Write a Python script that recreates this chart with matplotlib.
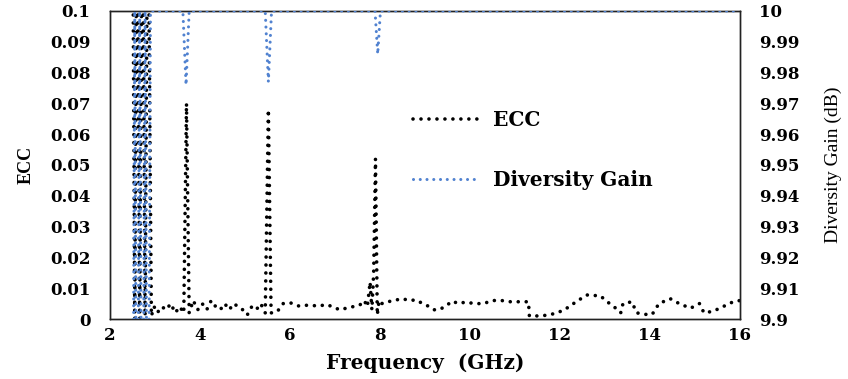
import matplotlib
matplotlib.use("Agg")
import matplotlib.pyplot as plt
from matplotlib.ticker import FixedLocator, FixedFormatter

plt.rcParams["font.family"] = ["DejaVu Serif"]

# Frequency sweep (GHz) and envelope correlation coefficient
freq_ecc = [2.50, 2.55, 2.60, 2.66, 2.72, 2.78, 2.84, 2.92, 2.98, 3.05, 3.15, 3.25,
            3.35, 3.45, 3.55, 3.64, 3.70, 3.76, 3.85, 3.95, 4.05, 4.15, 4.25, 4.35,
            4.45, 4.55, 4.65, 4.75, 4.85, 4.95, 5.05, 5.15, 5.25, 5.35, 5.45, 5.52,
            5.58, 5.66, 5.75, 5.85, 6.00, 6.20, 6.40, 6.65, 6.80, 6.95, 7.10, 7.25,
            7.40, 7.55, 7.65, 7.72, 7.78, 7.82, 7.86, 7.90, 7.94, 7.98, 8.05, 8.15,
            8.30, 8.50, 8.65, 8.80, 8.95, 9.10, 9.20, 9.30, 9.45, 9.60, 9.75, 9.90,
            10.10, 10.30, 10.50, 10.70, 10.90, 11.10, 11.30, 11.32, 11.60, 11.90,
            12.10, 12.40, 12.60, 12.90, 13.05, 13.20, 13.35, 13.40, 13.60, 13.70,
            13.90, 14.05, 14.20, 14.45, 14.65, 14.90, 15.10, 15.20, 15.40, 15.55,
            15.85, 16.00]
ecc = [0.150, 0.000, 0.150, 0.000, 0.150, 0.001, 0.150, 0.001, 0.004, 0.002, 0.004, 0.003,
       0.005, 0.002, 0.004, 0.002, 0.070, 0.002, 0.006, 0.003, 0.005, 0.003, 0.006, 0.004,
       0.003, 0.005, 0.003, 0.005, 0.004, 0.003, 0.0013, 0.004, 0.003, 0.005, 0.002, 0.068,
       0.002, 0.002, 0.003, 0.005, 0.0053, 0.0042, 0.0045, 0.0042, 0.0047, 0.004, 0.003, 0.0035,
       0.004, 0.0045, 0.006, 0.004, 0.012, 0.003, 0.015, 0.052, 0.0013, 0.006, 0.005, 0.0055,
       0.006, 0.0066, 0.006, 0.0062, 0.005, 0.004, 0.003, 0.003, 0.004, 0.0058, 0.005, 0.0055,
       0.005, 0.005, 0.006, 0.006, 0.0056, 0.0056, 0.0056, 0.001, 0.001, 0.0018,
       0.003, 0.006, 0.0078, 0.0075, 0.0056, 0.004, 0.002, 0.005, 0.0056, 0.002,
       0.0015, 0.0015, 0.005, 0.0066, 0.005, 0.0035, 0.005, 0.002, 0.0025, 0.0035,
       0.0056, 0.006]

# Diversity gain (dB)
freq_dg = [2.50, 2.55, 2.60, 2.66, 2.72, 2.78, 2.84, 2.90, 3.62, 3.69, 3.76,
           5.45, 5.52, 5.59, 7.89, 7.95, 8.01, 16.00]
dg = [9.80, 10.00, 9.80, 10.00, 9.80, 10.00, 9.80, 10.00, 10.00, 9.976, 10.00,
      10.00, 9.977, 10.00, 10.00, 9.986, 10.00, 10.00]

x_ticks = [2, 4, 6, 8, 10, 12, 14, 16]
ecc_ticks = [0, 0.01, 0.02, 0.03, 0.04, 0.05, 0.06, 0.07, 0.08, 0.09, 0.1]
ecc_labels = ["0", "0.01", "0.02", "0.03", "0.04", "0.05", "0.06", "0.07", "0.08", "0.09", "0.1"]
dg_ticks = [9.9, 9.91, 9.92, 9.93, 9.94, 9.95, 9.96, 9.97, 9.98, 9.99, 10.0]
dg_labels = ["9.9", "9.91", "9.92", "9.93", "9.94", "9.95", "9.96", "9.97", "9.98", "9.99", "10"]

fig = plt.figure(figsize=(8.48, 3.79), dpi=100)
ax = fig.add_axes([0.1297, 0.1583, 0.7429, 0.8127])
ax2 = ax.twinx()

dot = (0, (0.01, 2.2))
l1, = ax.plot(freq_ecc, ecc, color="black", lw=2.6, linestyle=dot,
              dash_capstyle="round", label="ECC")
l2, = ax2.plot(freq_dg, dg, color="#5182d0", lw=2.2, linestyle=dot,
               dash_capstyle="round", label="Diversity Gain", zorder=3)

ax.set_xlim(2, 16)
ax.set_ylim(0, 0.1)
ax2.set_ylim(9.9, 10.0)

ax.xaxis.set_major_locator(FixedLocator(x_ticks))
ax.set_xticklabels([str(t) for t in x_ticks])
ax.yaxis.set_major_locator(FixedLocator(ecc_ticks))
ax.yaxis.set_major_formatter(FixedFormatter(ecc_labels))
ax2.yaxis.set_major_locator(FixedLocator(dg_ticks))
ax2.yaxis.set_major_formatter(FixedFormatter(dg_labels))

ax.tick_params(axis="x", length=0, pad=6)
ax.tick_params(axis="y", length=0, pad=14)
ax2.tick_params(axis="y", length=0, pad=14)
for lab in ax.get_xticklabels() + ax.get_yticklabels() + ax2.get_yticklabels():
    lab.set_fontsize(12)
    lab.set_fontweight("bold")

for a in (ax, ax2):
    for s in a.spines.values():
        s.set_color("#222222")
        s.set_linewidth(1.0)

ax.set_xlabel("Frequency  (GHz)", fontsize=14.5, fontweight="bold", labelpad=6)
ax.set_ylabel("ECC", fontsize=13, fontweight="bold", labelpad=11,
              family="Liberation Serif")
ax2.set_ylabel("Diversity Gain (dB)", fontsize=14, labelpad=18,
               family="Liberation Serif")

ax2.legend([l1, l2], ["ECC", "Diversity Gain"], loc="upper left",
           bbox_to_anchor=(0.481, 0.68), frameon=False, borderpad=0,
           borderaxespad=0, handlelength=3.2, handletextpad=0.75,
           labelspacing=2.0, prop=dict(family="DejaVu Serif", weight="bold", size=14.5))

fig.savefig("out.png", dpi=100)
